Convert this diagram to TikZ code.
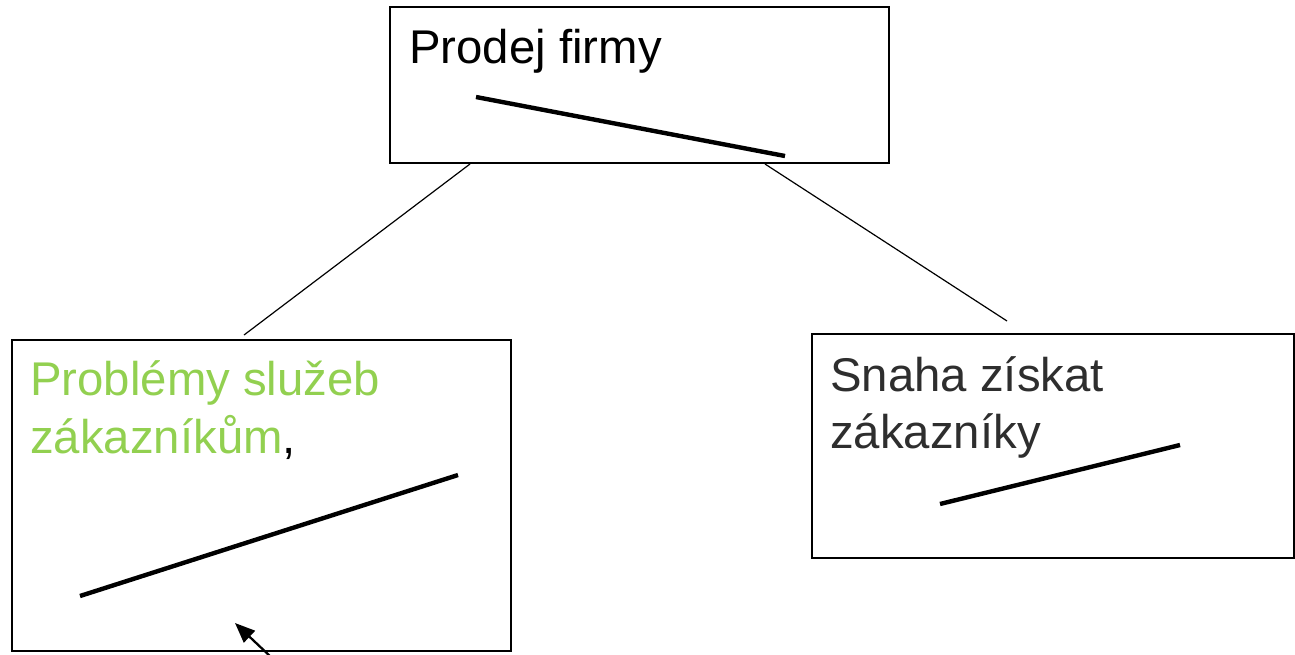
\documentclass[tikz,border=0pt]{standalone}
\usepackage{fontspec}
\setmainfont{Liberation Sans}
\usetikzlibrary{arrows.meta}
\definecolor{leafgreen}{HTML}{92D050}
\definecolor{inkgray}{HTML}{2E2E2E}
\begin{document}
\begin{tikzpicture}[x=0.75pt,y=-0.75pt,
  frame/.style={draw=black, line width=1.4pt, inner sep=0pt, anchor=north west},
  txt/.style={anchor=base west, inner sep=0pt, font=\fontsize{35.5}{43.5}\selectfont},
  stroke/.style={line width=3.3pt},
  link/.style={line width=0.9pt},
  pointer/.style={line width=1.7pt, -{Triangle[length=15pt,width=12pt]}},
]
\useasboundingbox (0,0) rectangle (1295,654);

% boxes
\node[frame, minimum width=374.25pt, minimum height=117pt] (top) at (389,6) {};
\node[frame, minimum width=374.25pt, minimum height=233.25pt] (left) at (11,339) {};
\node[frame, minimum width=361.5pt, minimum height=168pt] (right) at (811,333) {};

% texts
\node[txt] (t1) at (409,63) {Prodej firmy};
\node[txt, text=leafgreen] (l1) at (30,395) {Problémy služeb};
\node[txt] (l2) at (30,453) {{\color{leafgreen}zákazníkům},};
\node[txt, text=inkgray] (r1) at (830,391) {Snaha získat};
\node[txt, text=inkgray] (r2) at (830,448) {zákazníky};

% strokes inside the boxes
\coordinate (s1a) at (476,97);  \coordinate (s1b) at (785,156);
\coordinate (s2a) at (80,596);  \coordinate (s2b) at (458,475);
\coordinate (s3a) at (940,504); \coordinate (s3b) at (1180,445);
\draw[stroke] (s1a) -- (s1b);
\draw[stroke] (s2a) -- (s2b);
\draw[stroke] (s3a) -- (s3b);

% connectors between the boxes
\coordinate (c1a) at (470,164); \coordinate (c1b) at (244,335);
\coordinate (c2a) at (765,164); \coordinate (c2b) at (1007,321);
\draw[link] (c1a) -- (c1b);
\draw[link] (c2a) -- (c2b);

% pointer arrow
\coordinate (ptail) at (272,658);
\coordinate (ptip) at (235,623);
\draw[pointer] (ptail) -- (ptip);
\end{tikzpicture}
\end{document}
